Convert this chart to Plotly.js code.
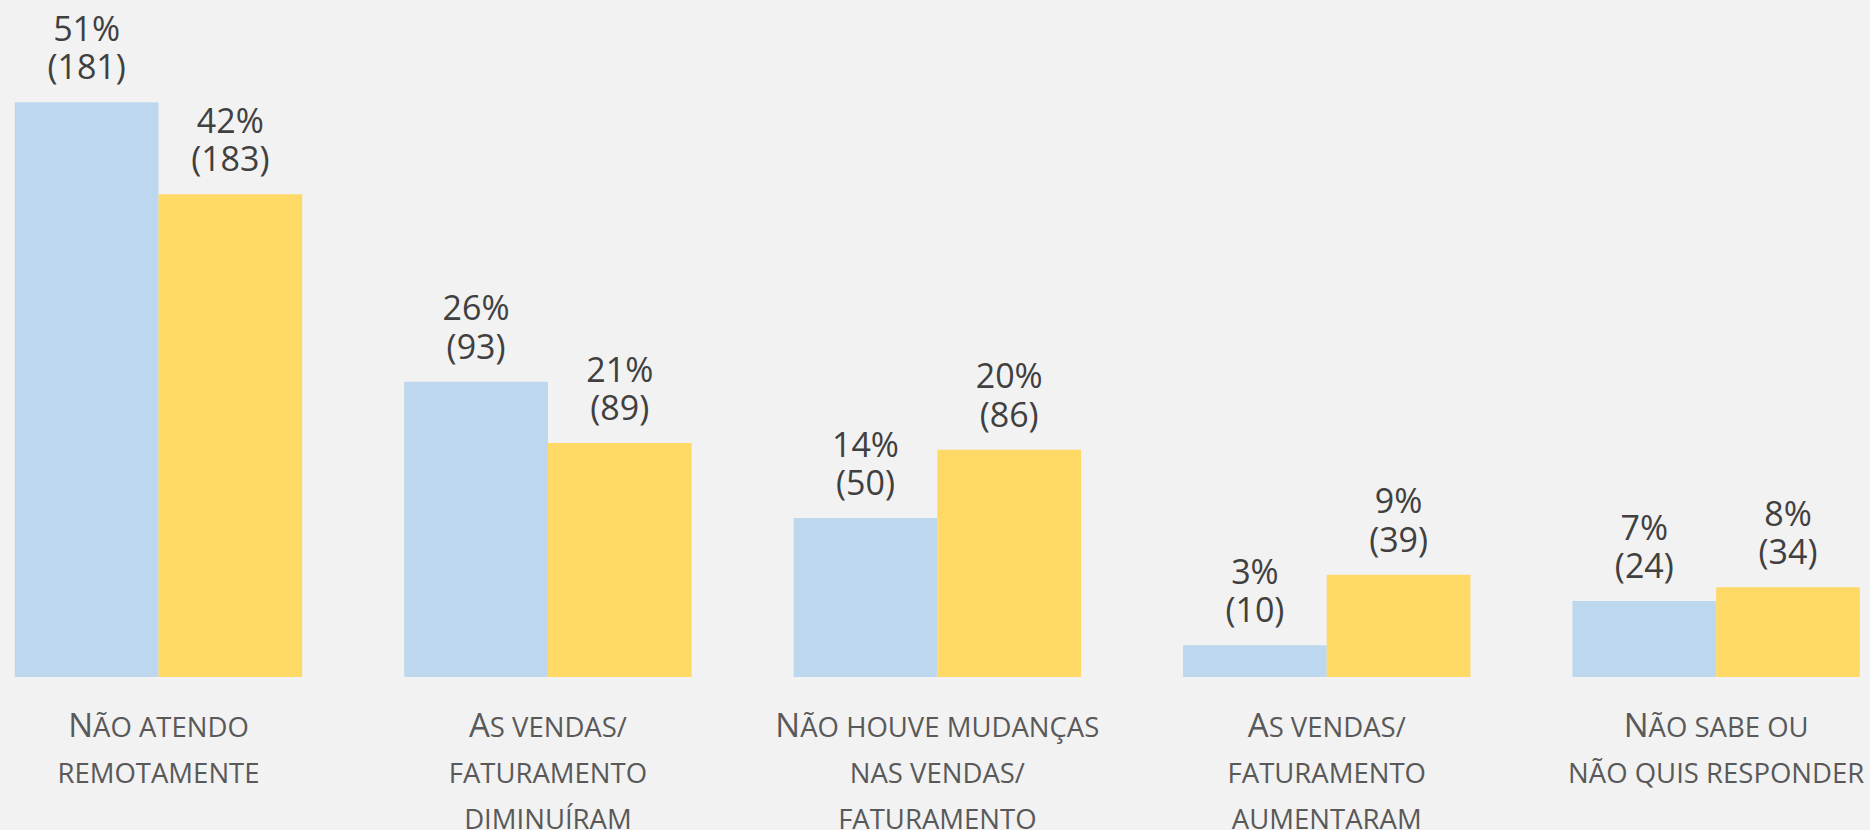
<!DOCTYPE html>
<html>
<head>
<meta charset="utf-8">
<script src="https://cdn.plot.ly/plotly-3.0.1.min.js"></script>
<style>
  html, body { margin: 0; padding: 0; background: #f2f2f2; }
  #chart { width: 1870px; height: 830px; }
</style>
</head>
<body>
<div id="chart"></div>
<script>
// ---- data ----
const categories = [
  "Não atendo<br>remotamente",
  "As vendas/<br>faturamento<br>diminuíram",
  "Não houve mudanças<br>nas vendas/<br>faturamento",
  "As vendas/<br>faturamento<br>aumentaram",
  "Não sabe ou<br>não quis responder"
];
const blueValues   = [50.6, 26.0, 14.0, 2.8, 6.7];
const blueLabels   = ["51%", "26%", "14%", "3%", "7%"];
const blueCounts   = [181, 93, 50, 10, 24];
const yellowValues = [42.5, 20.6, 20.0, 9.0, 7.9];
const yellowLabels = ["42%", "21%", "20%", "9%", "8%"];
const yellowCounts = [183, 89, 86, 39, 34];

// ---- helpers ----
function wrap(t, big) {
  if (!t) return '';
  return '<span style="font-size:' + (big ? 33 : 27.5) + 'px">' + t + '</span>';
}
function smallCaps(s) {
  return s.split('<br>').map(function (line) {
    let out = '', run = '', runBig = null;
    for (const ch of line) {
      const big = ch !== ch.toLowerCase();
      if (runBig === null) runBig = big;
      if (big !== runBig) { out += wrap(run, runBig); run = ''; runBig = big; }
      run += big ? ch : ch.toUpperCase();
    }
    out += wrap(run, runBig);
    return out;
  }).join('<br>');
}
const pad = '<span style="font-size:68px">\u00a0</span>';
function barText(labels, counts) {
  return labels.map(function (p, i) {
    return '<span style="font-size:34px">' + p + '</span><br>' + pad +
           '<span style="font-size:34px">(' + counts[i] + ')</span>' + pad;
  });
}

const common = {
  type: 'bar',
  x: categories,
  textposition: 'outside',
  textangle: 0,
  cliponaxis: false,
  constraintext: 'none',
  textfont: { family: 'Open Sans', size: 29.5, color: '#404040' },
  hoverinfo: 'skip'
};

const traces = [
  Object.assign({}, common, {
    y: blueValues,
    text: barText(blueLabels, blueCounts),
    marker: { color: '#BDD7EE', line: { width: 0 } }
  }),
  Object.assign({}, common, {
    y: yellowValues,
    text: barText(yellowLabels, yellowCounts),
    marker: { color: '#FFD966', line: { width: 0 } }
  })
];

const layout = {
  width: 1870,
  height: 830,
  paper_bgcolor: '#f2f2f2',
  plot_bgcolor: '#f2f2f2',
  margin: { l: 0, r: 0, t: 0, b: 153, pad: 0 },
  barmode: 'group',
  bargap: 0.262,
  bargroupgap: 0,
  showlegend: false,
  xaxis: {
    type: 'category',
    range: [-0.407, 4.395],
    tickmode: 'array',
    tickvals: categories,
    ticktext: categories.map(smallCaps),
    ticks: '',
    showline: false,
    showgrid: false,
    zeroline: false,
    automargin: false,
    ticklabelstandoff: 24,
    tickfont: { family: 'Open Sans', size: 35.4, color: '#595959' }
  },
  yaxis: {
    range: [0, 59.6],
    visible: false,
    showgrid: false,
    zeroline: false
  }
};

Plotly.newPlot('chart', traces, layout, { displayModeBar: false, staticPlot: true });
</script>
</body>
</html>
